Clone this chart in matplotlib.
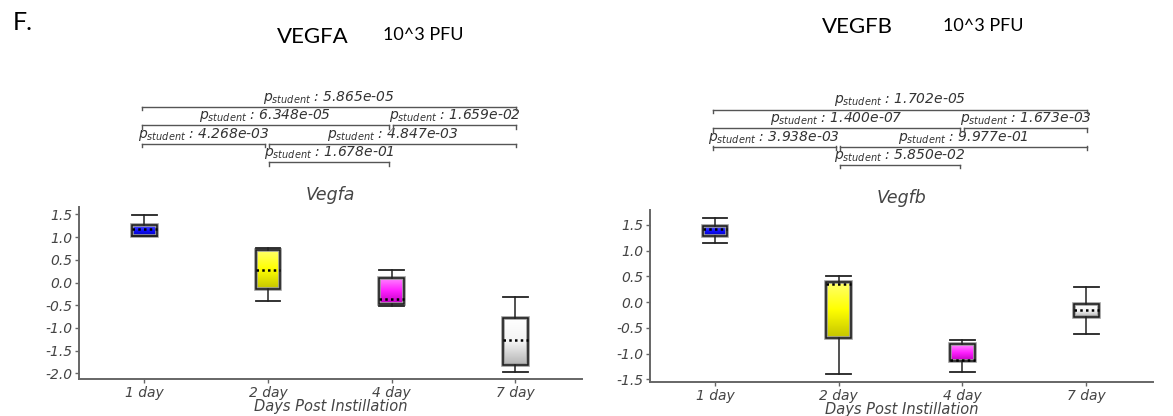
import numpy as np
import matplotlib
matplotlib.use("Agg")
import matplotlib.pyplot as plt
from matplotlib import transforms
from matplotlib.colors import LinearSegmentedColormap
import matplotlib.patheffects as pe

plt.rcParams['axes.unicode_minus'] = False

days = ["1 day", "2 day", "4 day", "7 day"]

# Vegfa box stats
vegfa_lo = [1.02, -0.41, -0.52, -1.97]
vegfa_q1 = [1.03, -0.14, -0.48, -1.82]
vegfa_med = [1.18, 0.27, -0.36, -1.27]
vegfa_q3 = [1.27, 0.72, 0.11, -0.79]
vegfa_hi = [1.49, 0.77, 0.28, -0.32]

# Vegfb box stats
vegfb_lo = [1.14, -1.40, -1.36, -0.62]
vegfb_q1 = [1.29, -0.70, -1.14, -0.28]
vegfb_med = [1.42, 0.36, -1.12, -0.16]
vegfb_q3 = [1.47, 0.39, -0.82, -0.04]
vegfb_hi = [1.64, 0.51, -0.73, 0.30]

# pairwise comparisons (i, j), bracket level, p value
pairs = [(0, 3), (0, 2), (2, 3), (0, 1), (1, 3), (1, 2)]
levels = [3, 2, 2, 1, 1, 0]
vegfa_p = ["5.865e-05", "6.348e-05", "1.659e-02", "4.268e-03", "4.847e-03", "1.678e-01"]
vegfb_p = ["1.702e-05", "1.400e-07", "1.673e-03", "3.938e-03", "9.977e-01", "5.850e-02"]

# gradient colours per box: light top, base, dark bottom
box_colors = [
    ["#5a5aff", "#1010ff", "#0000b8"],
    ["#ffff70", "#ffff00", "#c4c400"],
    ["#ff8cff", "#ff20ff", "#c000c0"],
    ["#ffffff", "#f4f4f4", "#b4b4b4"],
]

fig = plt.figure(figsize=(11.73, 4.16), dpi=100)
W, H = 1173, 416


def px_axes(x0, y0, x1, y1):
    return fig.add_axes([x0 / W, 1 - y1 / H, (x1 - x0) / W, (y1 - y0) / H])


def draw_panel(ax, name, lo, q1, med, q3, hi, pvals, ylim, yticks):
    stats = []
    for i in range(len(days)):
        stats.append(dict(whislo=lo[i], q1=q1[i], med=med[i], q3=q3[i],
                          whishi=hi[i], fliers=[], label=days[i]))
    bp = ax.bxp(stats, positions=range(len(days)), widths=0.2, capwidths=0.2,
                patch_artist=True, showfliers=False,
                boxprops=dict(facecolor='none', edgecolor='#1a1a1a', lw=1.1),
                whiskerprops=dict(color='#222222', lw=1.1),
                capprops=dict(color='#222222', lw=1.3),
                medianprops=dict(color='black', lw=1.8, ls=(0, (1, 1.3))))
    # gradient fill clipped to each box
    for i, box in enumerate(bp['boxes']):
        box.set_path_effects([pe.Stroke(linewidth=2.6, foreground='#9a9a9a'), pe.Normal()])
        cmap = LinearSegmentedColormap.from_list("g", box_colors[i][::-1])
        grad = np.linspace(0, 1, 64).reshape(-1, 1)
        im = ax.imshow(grad, cmap=cmap, origin='lower', aspect='auto',
                       extent=[i - 0.1, i + 0.1, q1[i], q3[i]], zorder=1.5)
        im.set_clip_path(box)
        box.set_zorder(2)

    ax.set_xlim(-0.526, 3.54)
    ax.set_ylim(*ylim)
    ax.set_yticks(yticks)
    ax.set_yticklabels([f"{v:.1f}" for v in yticks])
    ax.set_xticks(range(len(days)))
    ax.set_xticklabels(days)
    for s in ['top', 'right']:
        ax.spines[s].set_visible(False)
    for s in ['left', 'bottom']:
        ax.spines[s].set_color('#666666')
        ax.spines[s].set_linewidth(1.4)
    ax.tick_params(direction='out', length=3, width=1, color='#666666',
                   labelcolor='#444444', labelsize=10, pad=2)
    for lab in ax.get_xticklabels() + ax.get_yticklabels():
        lab.set_fontstyle('italic')
    ax.set_xlabel("Days Post Instillation", fontsize=10.5, style='italic',
                  color='#444444', labelpad=-1)
    ax.set_title(name, fontsize=12.5, style='italic', color='#444444', pad=5)

    # significance brackets above the axes (offsets in pixels above the top)
    base = transforms.blended_transform_factory(ax.transData, ax.transAxes)
    for (i, j), lev, p in zip(pairs, levels, pvals):
        dy = (44.5 + 18.5 * lev) / 100.0
        x1 = i - 0.02 if i == 0 else i + 0.01
        x2 = j + 0.01 if j == 3 else j - 0.02
        tr = base + transforms.ScaledTranslation(0, dy, fig.dpi_scale_trans)
        ax.plot([x1, x2], [1, 1], transform=tr, color='#555555', lw=1, clip_on=False)
        trl = base + transforms.ScaledTranslation(0, dy + 0.01, fig.dpi_scale_trans)
        ax.text((x1 + x2) / 2, 1, r"$p_{student}$ : " + p, transform=trl,
                ha='center', va='bottom', fontsize=10, style='italic', color='#333333')


def draw_bracket_ends(ax):
    # short downward ticks at the ends of each bracket
    base = transforms.blended_transform_factory(ax.transData, ax.transAxes)
    for (i, j), lev in zip(pairs, levels):
        dy = (44.5 + 18.5 * lev) / 100.0
        x1 = i - 0.02 if i == 0 else i + 0.01
        x2 = j + 0.01 if j == 3 else j - 0.02
        for xx in (x1, x2):
            p0 = base.transform((xx, 1)) + np.array([0, dy * fig.dpi])
            p1 = p0 - np.array([0, 3.5])
            pts = fig.transFigure.inverted().transform([p0, p1])
            fig.add_artist(plt.Line2D(pts[:, 0], pts[:, 1], color='#555555', lw=1,
                                      transform=fig.transFigure))


ax1 = px_axes(79.3, 206.7, 582, 379.3)
ax2 = px_axes(650, 209.5, 1153, 382)

draw_panel(ax1, "Vegfa", vegfa_lo, vegfa_q1, vegfa_med, vegfa_q3, vegfa_hi,
           vegfa_p, (-2.13, 1.67), np.arange(-2.0, 1.51, 0.5))
draw_panel(ax2, "Vegfb", vegfb_lo, vegfb_q1, vegfb_med, vegfb_q3, vegfb_hi,
           vegfb_p, (-1.55, 1.80), np.arange(-1.5, 1.51, 0.5))
fig.canvas.draw()
draw_bracket_ends(ax1)
draw_bracket_ends(ax2)

# headings
fig.text(13 / W, 1 - 30 / H, "F.", fontsize=18, family='Lato', va='baseline')
fig.text(277 / W, 1 - 43 / H, "VEGFA", fontsize=16, family='Lato', va='baseline')
fig.text(383 / W, 1 - 40 / H, "10^3 PFU", fontsize=13, family='Lato', va='baseline')
fig.text(822 / W, 1 - 33 / H, "VEGFB", fontsize=16, family='Lato', va='baseline')
fig.text(943 / W, 1 - 31 / H, "10^3 PFU", fontsize=13, family='Lato', va='baseline')

fig.savefig("out.png", dpi=100)
